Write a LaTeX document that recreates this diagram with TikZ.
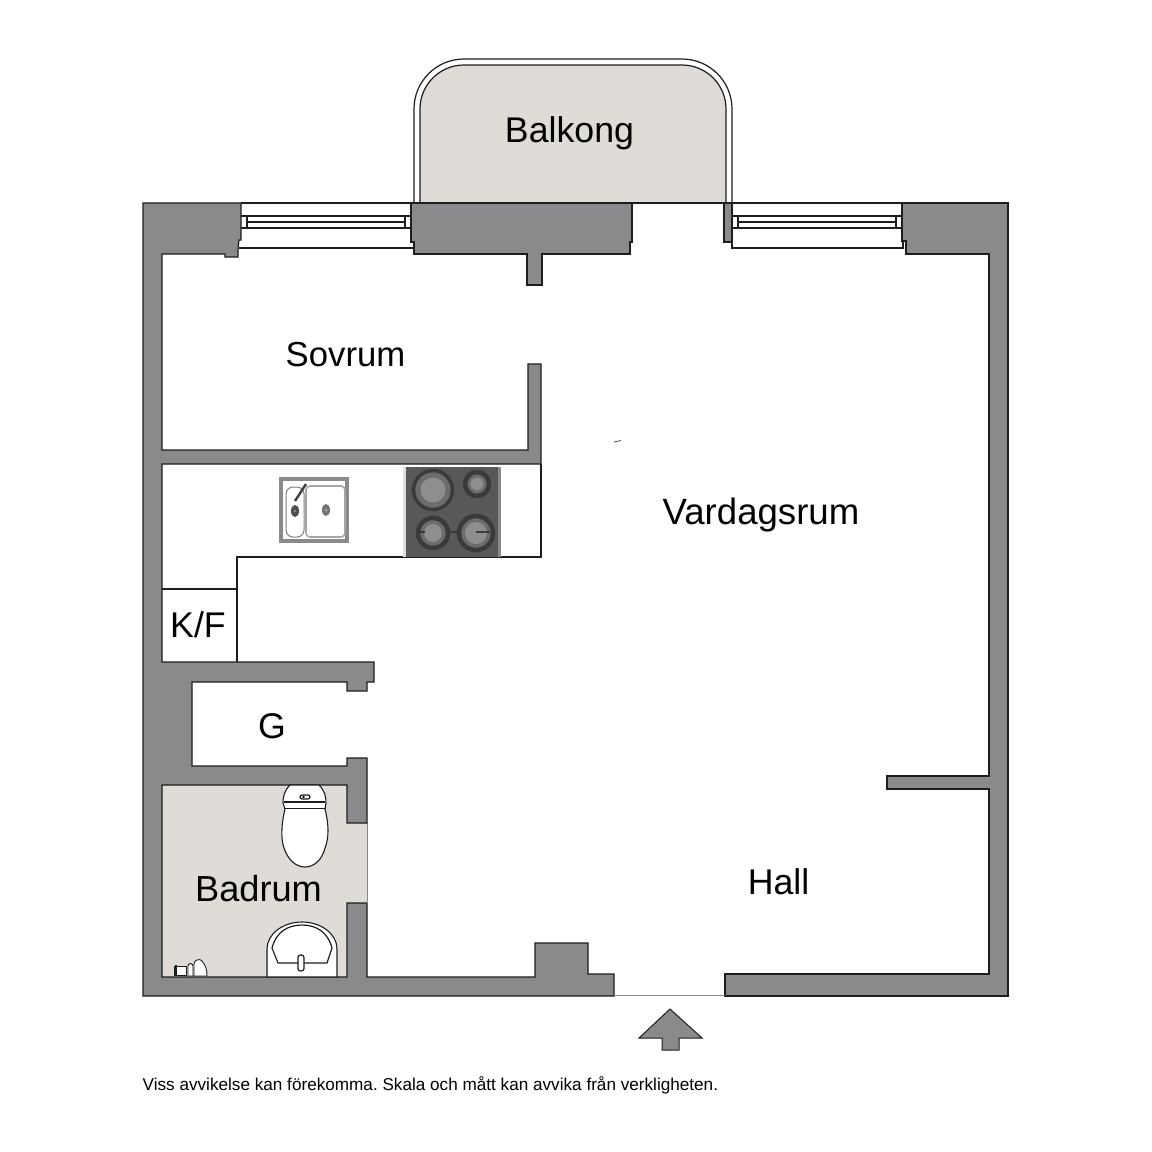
\documentclass[tikz,border=0pt]{standalone}
\usepackage{fontspec}
\setmainfont{Liberation Sans}
\definecolor{wallgray}{HTML}{898A8B}
\definecolor{floorbeige}{HTML}{DFDBD7}
\definecolor{inkline}{HTML}{1E1E1E}
\definecolor{hobdark}{HTML}{585858}
\definecolor{hobring}{HTML}{3A3A3A}
\definecolor{hobmid}{HTML}{6C6C6C}
\definecolor{hobplate}{HTML}{8E8E8E}
\tikzset{
  wall/.style={fill=wallgray,draw=inkline,line width=1.2pt,line join=miter},
  thin line/.style={draw=inkline,line width=1.2pt},
  fixture/.style={draw=inkline,line width=1.1pt,fill=white},
  roomlabel/.style={inner sep=0pt,font=\fontsize{35.7}{40}\selectfont,text=black},
  footnote text/.style={inner sep=0pt,anchor=west,font=\frenchspacing\fontsize{17.15}{20}\selectfont,text=black},
  ringouter/.style={fill=hobmid,draw=hobring,line width=3.5pt},
  plate/.style={fill=hobplate},
}
\begin{document}
\begin{tikzpicture}[x=1pt,y=-1pt]
\useasboundingbox (0,0) rectangle (1152,1152);
\fill[white] (0,0) rectangle (1152,1152);

% balcony
\draw[thin line,fill=white] (414,203) -- (414,109) arc[start angle=180,end angle=270,radius=50] -- (682,59) arc[start angle=270,end angle=360,radius=50] -- (732,203);
\draw[thin line,fill=floorbeige] (420,203) -- (420,109) arc[start angle=180,end angle=270,radius=44] -- (682,65) arc[start angle=270,end angle=360,radius=44] -- (726,203) -- cycle;

% bathroom floor
\fill[floorbeige] (162,785) rectangle (367,977);
\draw[draw=wallgray,line width=1pt] (367,823) -- (367,902);

% walls: west and south part
\draw[wall] (143,203) -- (241,203) -- (241,240) -- (239,240) -- (238,248) -- (238,257) -- (225,257) -- (225,254) -- (162,254)
  -- (162,450) -- (528,450) -- (528,364) -- (541,364) -- (541,464) -- (162,464) -- (162,662)
  -- (374,662) -- (374,682) -- (367,682) -- (367,691) -- (347,691) -- (347,682) -- (192,682) -- (192,766) -- (347,766) -- (347,758) -- (367,758)
  -- (367,823) -- (347,823) -- (347,785) -- (162,785) -- (162,977) -- (347,977) -- (347,903) -- (367,903) -- (367,977)
  -- (535,977) -- (535,943) -- (588,943) -- (588,974) -- (614,974) -- (614,996) -- (143,996) -- cycle;
% walls: east part
\draw[wall] (725,996) -- (725,974) -- (989,974) -- (989,789) -- (887,789) -- (887,776) -- (989,776) -- (989,254)
  -- (906,254) -- (906,241) -- (902,241) -- (902,203) -- (1008,203) -- (1008,996) -- cycle;
% walls: north middle
\draw[wall] (411,203) -- (411,242) -- (414,242) -- (414,254) -- (527,254) -- (527,285) -- (542,285) -- (542,254)
  -- (630,254) -- (630,242) -- (632,242) -- (632,203) -- cycle;
\draw[wall] (724,203) rectangle (732,242);
% threshold and top line
\draw[draw=wallgray,line width=1.4pt] (614,995.5) -- (725,995.5);
\draw[thin line] (632,203) -- (724,203);

% windows
\draw[thin line] (241,203) -- (411,203);
\draw[thin line] (241,216) -- (411,216) (241,228) -- (411,228) (247,222) -- (405,222) (247,216) -- (247,228) (405,216) -- (405,228);
\draw[thin line] (239,248) -- (414,248);
\draw[thin line] (732,203) -- (902,203);
\draw[thin line] (732,216) -- (902,216) (732,228) -- (902,228) (738,222) -- (896,222) (738,216) -- (738,228) (896,216) -- (896,228);
\draw[thin line] (732,242) -- (732,248) -- (903,248) -- (903,241);

% kitchen counter
\draw[thin line] (541,464) -- (541,557) -- (237,557) -- (237,662);
\draw[thin line] (162,589) -- (237,589);

% sink
\draw[draw=wallgray,line width=3.6pt,fill=white] (281,479) rectangle (347,541);
\draw[draw=gray,line width=1pt,rounded corners=7pt] (286,487) rectangle (304,537);
\draw[draw=gray!70,line width=1.6pt,rounded corners=4pt] (306,486) rectangle (345,537);
\fill[black!70] (295,511) ellipse[x radius=4,y radius=6];
\fill[gray] (295,511) circle[radius=1.6];
\fill[black!55] (326,510) ellipse[x radius=4,y radius=6];
\fill[gray!80] (326,510) circle[radius=1.8];
\draw[draw=black!75,line width=2.4pt] (295,501) -- (306,484);

% hob
\fill[black!12] (403,467) rectangle (406,557);
\fill[hobdark] (406,467) rectangle (498,557);
\fill[wallgray] (498,467) rectangle (501,557);
\draw[ringouter] (433,490) circle[radius=19.5];
\fill[plate] (433,490) circle[radius=12.5];
\draw[ringouter,line width=4.5pt] (477,484) circle[radius=12];
\fill[plate] (477,484) circle[radius=6.5];
\draw[ringouter,line width=4.5pt] (433,533) circle[radius=15];
\fill[plate] (433,533) circle[radius=9];
\draw[ringouter,line width=4.5pt] (476,533) circle[radius=17];
\fill[plate] (476,533) circle[radius=11];
\draw[draw=hobring,line width=1.5pt] (416,532) -- (425,532) (448,532) -- (458,532) (476,532) -- (490,532);

% toilet
\draw[fixture] (290,785) .. controls (284,791) and (283,797) .. (283,803) -- (285,809)
  .. controls (281,825) and (281,840) .. (284,848) .. controls (288,860) and (296,867) .. (305,867)
  .. controls (314,867) and (322,860) .. (325,848) .. controls (329,838) and (329,825) .. (325,809)
  -- (326,803) .. controls (326,797) and (325,791) .. (319,785) -- cycle;
\draw[thin line] (284,802) -- (325,802) (284,808.5) -- (326,808.5);
\draw[thin line,fill=white,rounded corners=2pt] (300,795) rectangle (310,799);
\fill[black] (303.5,797) circle[radius=1.4];

% wash basin
\draw[fixture] (267,977) -- (267,949) arc[start angle=180,end angle=360,x radius=35,y radius=27] -- (337,977) -- cycle;
\draw[thin line] (272,948) .. controls (276,932) and (288,925) .. (302,925) .. controls (316,925) and (328,932) .. (332,948) -- (327,963) -- (278,963) -- cycle;
\draw[thin line,fill=white,rounded corners=2.5pt] (298,955) rectangle (304,971);

% shower mixer
\draw[fixture,line width=0.9pt] (174,966) rectangle (186,975);
\draw[fixture,line width=0.9pt] (188,976) -- (188,966) arc[start angle=180,end angle=360,radius=2.5] -- (193,976) -- cycle;
\draw[fixture,line width=0.9pt] (194,976) -- (194,964) .. controls (194,960) and (200,958) .. (202,961) .. controls (206,966) and (207,970) .. (207,976) -- cycle;
\draw[draw=inkline,line width=1.6pt] (176,965) -- (176,976);

% small stray mark
\draw[draw=black!70,line width=0.8pt] (614,442) -- (621,440.5);

% entrance arrow
\draw[wall,line width=1pt] (670,1009) -- (702,1038) -- (679,1038) -- (679,1050) -- (662,1050) -- (662,1038) -- (639,1038) -- cycle;

% labels
\node[roomlabel] (balkong) at (569.5,133) {Balkong};
\node[roomlabel,font=\fontsize{34.7}{40}\selectfont] (sovrum) at (345.5,355) {Sovrum};
\node[roomlabel,font=\fontsize{36.6}{40}\selectfont] (vardagsrum) at (761,515) {Vardagsrum};
\node[roomlabel] (hall) at (778.5,882) {Hall};
\node[roomlabel] (kf) at (198,625) {K/F};
\node[roomlabel] (g) at (272,726) {G};
\node[roomlabel,font=\fontsize{36.2}{40}\selectfont] (badrum) at (258.5,889) {Badrum};
\node[footnote text] (note) at (142.5,1085.5) {Viss avvikelse kan förekomma. Skala och mått kan avvika från verkligheten.};
\end{tikzpicture}
\end{document}
